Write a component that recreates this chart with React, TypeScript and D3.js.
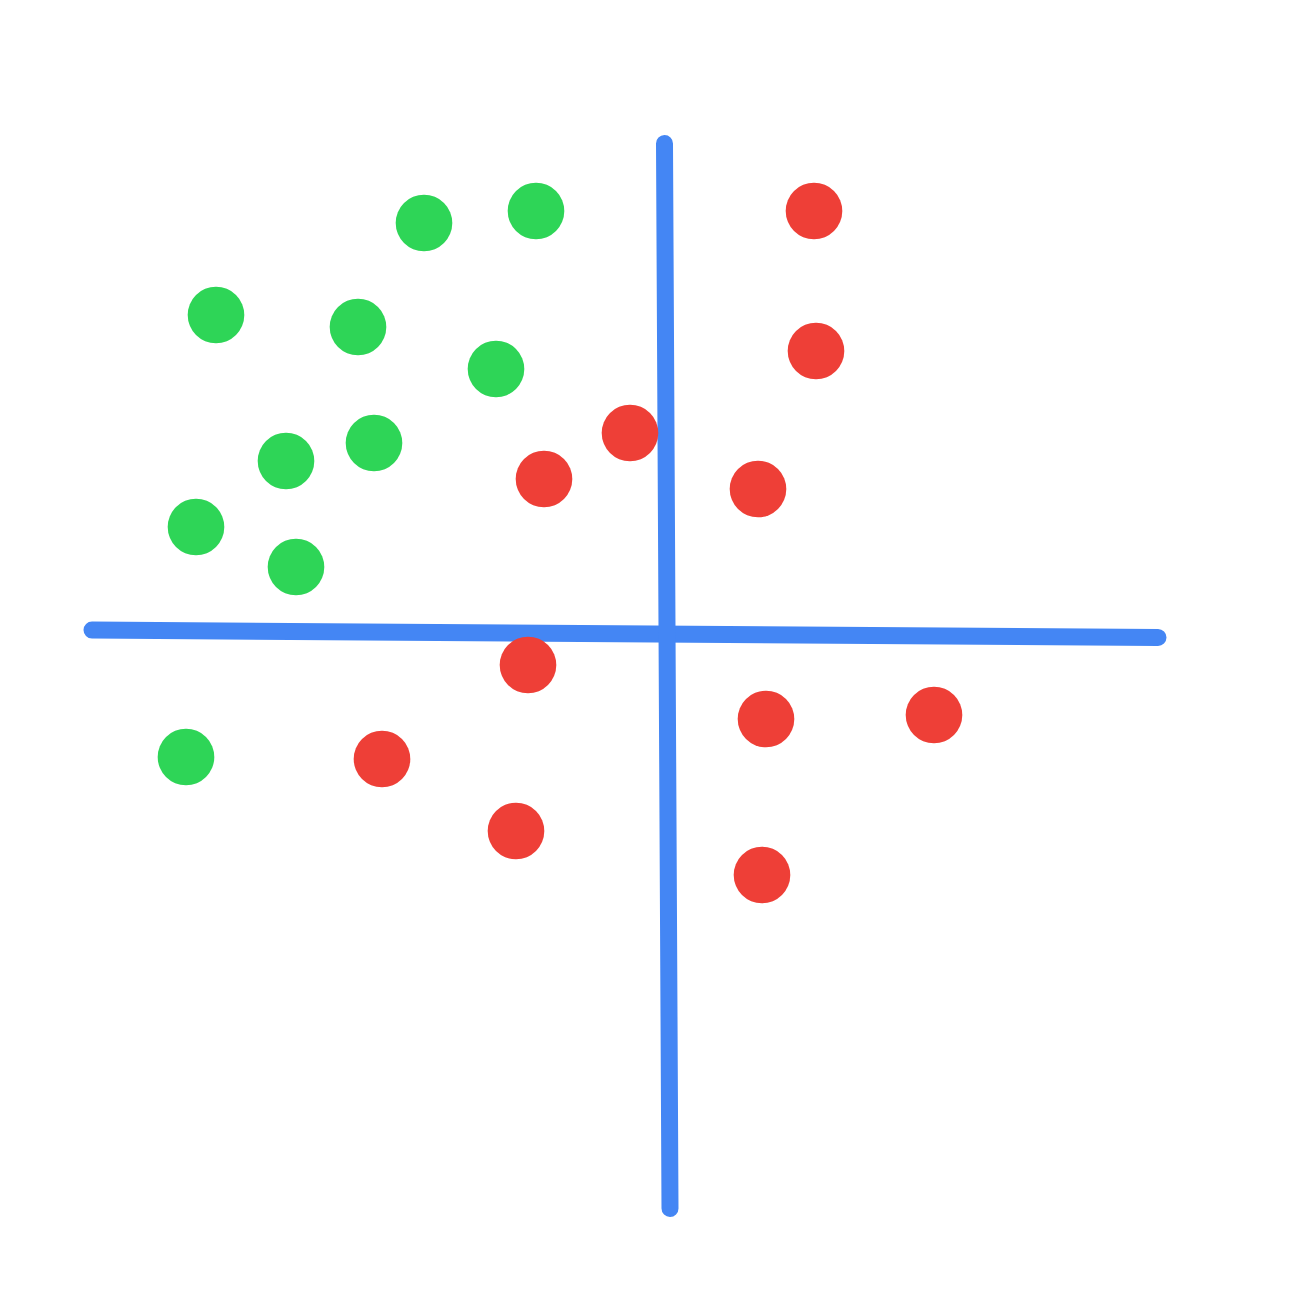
import React from 'react';
import { scaleLinear } from 'd3';

// points in chart units (origin at the axis crossing)
const greenX = [-24.3, -13.1, -45.1, -30.9, -17.1, -38.1, -29.3, -47.1, -37.1, -48.1];
const greenY = [41.0, 42.2, 31.8, 30.6, 26.4, 17.2, 19.0, 10.6, 6.6, -12.4];
const redX = [14.7, 14.9, -3.7, -12.3, 9.1, -13.9, 9.9, 26.7, -28.5, -15.1, 9.5];
const redY = [42.2, 28.2, 20.0, 15.4, 14.4, -3.2, -8.6, -8.2, -12.6, -19.8, -24.2];

// hand drawn axis strokes: [x1, y1, x2, y2]
const hAxis = [-57.5, 0.3, 49.1, -0.45];
const vAxis = [-0.25, 48.95, 0.3, -57.55];

const W = 1307;
const H = 1307;

export default function App() {
  const x = scaleLinear().domain([-60, 50]).range([67, 1167]);
  const y = scaleLinear().domain([-60, 50]).range([1233, 133]);

  const axisLine = (a: number[], k: string) => (
    <line
      key={k}
      x1={x(a[0])}
      y1={y(a[1])}
      x2={x(a[2])}
      y2={y(a[3])}
      stroke="#4486F4"
      strokeWidth={17}
      strokeLinecap="round"
    />
  );

  return (
    <svg
      width={W}
      height={H}
      style={{ position: 'absolute', left: 0, top: 0, background: '#fff' }}
    >
      {axisLine(hAxis, 'h')}
      {axisLine(vAxis, 'v')}
      {greenX.map((d, i) => (
        <circle key={'g' + i} cx={x(d)} cy={y(greenY[i])} r={28.3} fill="#2ED557" />
      ))}
      {redX.map((d, i) => (
        <circle key={'r' + i} cx={x(d)} cy={y(redY[i])} r={28.3} fill="#EE3F37" />
      ))}
    </svg>
  );
}
